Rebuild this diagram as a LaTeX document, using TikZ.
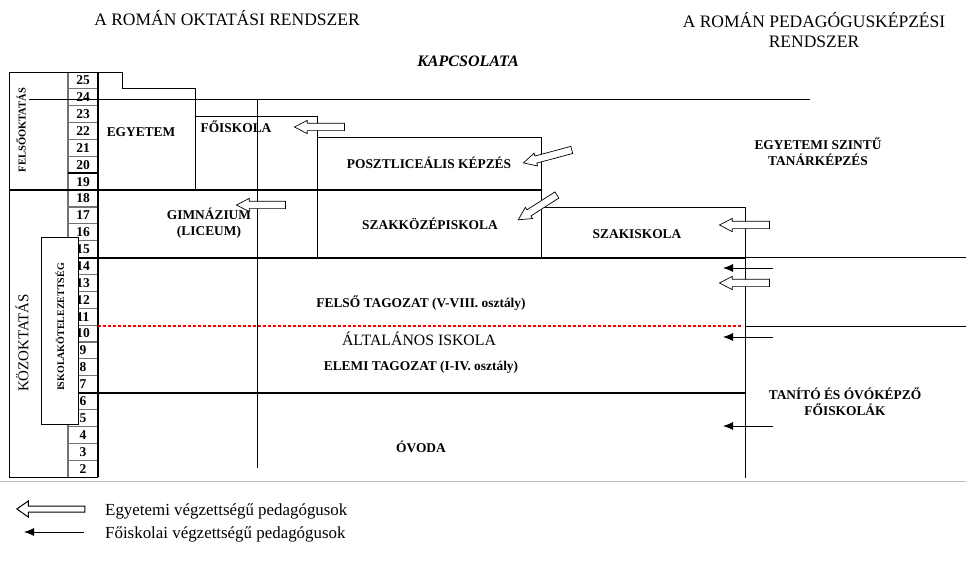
\documentclass[tikz,border=0pt]{standalone}
\usepackage{fontspec}
\setmainfont{Liberation Serif}
\usetikzlibrary{shapes.arrows,arrows.meta}
\begin{document}
\begin{tikzpicture}[x=1pt,y=-1pt,
  ln/.style={line width=0.8pt},
  tk/.style={line width=2pt},
  cellln/.style={draw=black!55,line width=1.1pt},
  hdr/.style={font=\fontsize{17.5}{20}\selectfont,inner sep=0pt,align=center},
  lbl/.style={font=\fontsize{13.4}{16}\selectfont\bfseries,inner sep=0pt,align=center},
  num/.style={font=\fontsize{13.5}{13.5}\selectfont\bfseries,inner sep=0pt},
  legtxt/.style={font=\fontsize{16.9}{18}\selectfont,inner sep=0pt,anchor=west},
  harrow/.style={single arrow,draw,fill=white,line width=0.7pt,minimum height=50pt,
     minimum width=13pt,single arrow head extend=3pt,single arrow tip angle=55,
     inner xsep=0pt,inner ysep=3.3pt},
  farrow/.style={-{Latex[length=10pt,width=8pt]},line width=0.8pt}]
\useasboundingbox (0,0) rectangle (966,577);
\fill[white] (0,0) rectangle (966,577);

% headers
\node[hdr] (h1) at (227,18) {A ROMÁN OKTATÁSI RENDSZER};
\node[hdr] (h2) at (814,30) {A ROMÁN PEDAGÓGUSKÉPZÉSI\\RENDSZER};
\node[font=\fontsize{16}{18}\selectfont\bfseries\itshape,inner sep=0pt] (h3) at (468,61) {KAPCSOLATA};

% number column cells
\foreach \k in {1,...,23} {
  \draw[cellln] (68,{72+\k*16.875}) -- (98,{72+\k*16.875});
}
\foreach \n in {2,...,25} {
  \pgfmathsetmacro\yy{72+(25-\n+0.5)*16.875}
  \node[num] (n\n) at (83,\yy) {\n};
}
\draw[cellln] (68,72) -- (68,477);

% frame
\draw[ln] (9,477) -- (9,72) -- (122,72) -- (122,88) -- (195,88) -- (195,190.1);
\draw[ln] (9,477) -- (98,477);
\draw[tk] (98,72) -- (98,477);
\draw[tk] (68,173.25) -- (98,173.25);
\draw[ln] (29,99) -- (810,99);
\draw[ln] (195,116) -- (317,116) -- (317,257.6);
\draw[ln] (257,99) -- (257,468);
\draw[ln] (317,137) -- (541,137) -- (541,257.6);
\draw[tk] (9,190.1) -- (541,190.1);
\draw[ln] (541,207) -- (745,207) -- (745,478);
\draw[tk] (68,257.6) -- (745,257.6);
\draw[ln] (745,257.6) -- (966,257.6);
\draw[red,line width=2.6pt,dash pattern=on 3pt off 2pt] (98,326) -- (743,326);
\draw[ln] (745,326) -- (966,326);
\draw[tk] (68,392.6) -- (745,392.6);
\draw[black!25,line width=1pt] (0,481) -- (966,481);

% side labels
\node[font=\fontsize{10.5}{12}\selectfont\bfseries,rotate=90,inner sep=0pt] (felso) at (21,130) {FELSŐOKTATÁS};
\node[font=\fontsize{15}{16}\selectfont,rotate=90,inner sep=0pt] (koz) at (22,343) {KÖZOKTATÁS};
\node[draw,fill=white,line width=0.8pt,minimum width=37pt,minimum height=187pt,inner sep=0pt] (isk) at (59.5,330.5) {};
\node[font=\fontsize{10}{12}\selectfont\bfseries,rotate=90,inner sep=0pt] (iskt) at (60,327) {ISKOLAKÖTELEZETTSÉG};

% institution labels
\node[lbl] (egy) at (141,132) {EGYETEM};
\node[lbl] (foi) at (236,127) {FŐISKOLA};
\node[lbl] (gim) at (209,223) {GIMNÁZIUM\\(LICEUM)};
\node[lbl] (poszt) at (429,163) {POSZTLICEÁLIS KÉPZÉS};
\node[lbl] (szk) at (430,224) {SZAKKÖZÉPISKOLA};
\node[lbl] (szi) at (637,234) {SZAKISKOLA};
\node[lbl] (felt) at (421,303) {FELSŐ TAGOZAT (V-VIII. osztály)};
\node[font=\fontsize{15.8}{17}\selectfont,inner sep=0pt] (alt) at (419,339) {ÁLTALÁNOS ISKOLA};
\node[lbl] (elemi) at (421,367) {ELEMI TAGOZAT (I-IV. osztály)};
\node[lbl] (ovoda) at (421,447) {ÓVODA};
\node[lbl] (egyt) at (818,151.5) {EGYETEMI SZINTŰ\\TANÁRKÉPZÉS};
\node[lbl] (tanito) at (845,402) {TANÍTÓ ÉS ÓVÓKÉPZŐ\\FŐISKOLÁK};

% hollow arrows (university-level teachers)
\node[harrow,rotate=180] (a1) at (323,127) {};
\node[harrow,rotate=180,minimum height=49pt] (a2) at (264.5,205) {};
\node[harrow,rotate=195] (a3) at (551,155.5) {};
\node[harrow,rotate=212.7,minimum height=46pt] (a4) at (540.5,205.5) {};
\node[harrow,rotate=180] (a5) at (748,225) {};
\node[harrow,rotate=180] (a6) at (748,283) {};

% filled arrows (college-level teachers)
\coordinate (f1s) at (773,268); \coordinate (f1e) at (723,268);
\coordinate (f2s) at (773,337); \coordinate (f2e) at (723,337);
\coordinate (f3s) at (773,426); \coordinate (f3e) at (723,426);
\draw[farrow] (f1s) -- (f1e);
\draw[farrow] (f2s) -- (f2e);
\draw[farrow] (f3s) -- (f3e);

% legend
\node[harrow,rotate=180,minimum height=68pt,minimum width=15pt,single arrow head extend=5pt,inner ysep=2.5pt,single arrow tip angle=70,line width=1pt] (l1) at (53,509) {};
\node[legtxt] (l1t) at (105,511) {Egyetemi végzettségű pedagógusok};
\coordinate (l2s) at (84,532); \coordinate (l2e) at (24,532);
\draw[farrow] (l2s) -- (l2e);
\node[legtxt] (l2t) at (105,534) {Főiskolai végzettségű pedagógusok};
\end{tikzpicture}
\end{document}
